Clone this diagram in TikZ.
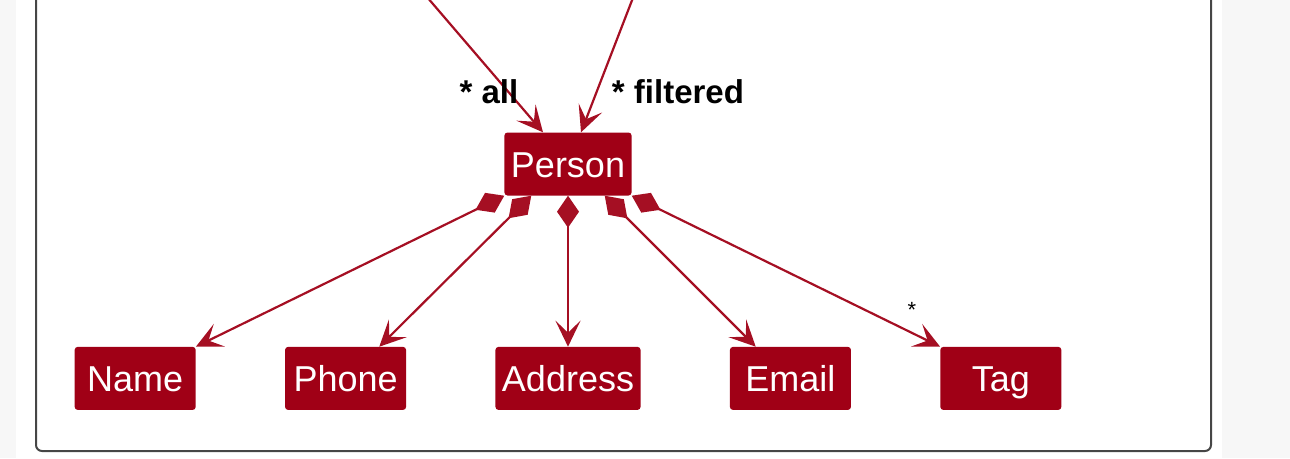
\documentclass[tikz,border=0pt]{standalone}
\usepackage{fontspec}
\setmainfont{Liberation Sans}
\usepackage{tikz}
\usetikzlibrary{positioning, arrows.meta}
\usepackage{xcolor}
\definecolor{umlred}{RGB}{160, 0, 22}
\definecolor{umlline}{RGB}{165, 15, 35}
\definecolor{frameline}{RGB}{70, 70, 70}

\begin{document}
\begin{tikzpicture}[
        x=1pt, y=-1pt,
        node distance = 151pt and 89pt,
        cls/.style = {fill=umlred, text=white, rounded corners=3pt, minimum height=63pt, minimum width=121pt, inner xsep=6.5pt, text height=28pt, text depth=2pt, font=\fontsize{36}{40}\selectfont},
        role/.style = {font=\fontsize{33}{36}\selectfont\bfseries, inner sep=0pt},
        assoc/.style = {draw=umlline, line width=2.2pt, -{Stealth[length=26pt, width=25pt, inset=12pt]}},
        comp/.style = {assoc, {Diamond[length=32pt, width=22pt]}-{Stealth[length=26pt, width=25pt, inset=12pt]}},
    ]
        \useasboundingbox (0,0) rectangle (1290,458);
        \fill[black!3] (0,0) rectangle (16,458);
        \fill[black!3] (1222,0) rectangle (1290,458);
        \draw[frameline, line width=2pt, rounded corners=6pt] (36,-20) rectangle (1211,451);

        \node[cls] (person) at (568,164) {Person};
        \node[cls, below=of person] (address) {Address};
        \node[cls, left=of address] (phone) {Phone};
        \node[cls, left=of phone] (name) {Name};
        \node[cls, right=of address] (email) {Email};
        \node[cls, right=of email] (tag) {Tag};

        \coordinate (allsrc) at (421,-10);
        \coordinate (filtsrc) at (636,-10);
        \draw[assoc] (allsrc) -- ([xshift=-25pt]person.north);
        \draw[assoc] (filtsrc) -- ([xshift=13pt]person.north);
        \node[role] (alllbl) at (489,92) {* all};
        \node[role] (filtlbl) at (678,92) {* filtered};

        \draw[comp] (person.south west) -- (name.north east);
        \draw[comp] ([xshift=27pt]person.south west) -- ([xshift=-27pt]phone.north east);
        \draw[comp] (person.south) -- (address.north);
        \draw[comp] ([xshift=-27pt]person.south east) -- ([xshift=26pt]email.north west);
        \draw[comp] (person.south east) -- (tag.north west);
        \node[font=\fontsize{22}{24}\selectfont, inner sep=0pt] (tagmult) at (912,310) {*};
    \end{tikzpicture}
\end{document}
